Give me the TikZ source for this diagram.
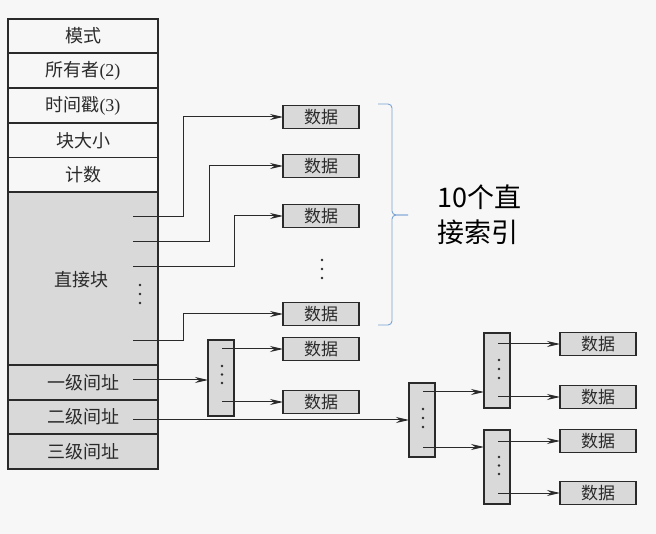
\documentclass[tikz,border=0pt]{standalone}
\usepackage{fontspec}
\setmainfont{Liberation Serif}
\newfontfamily\cjk{Noto Sans CJK SC}
\usetikzlibrary{arrows.meta}
\definecolor{bg}{HTML}{F7F7F7}
\definecolor{cellgray}{HTML}{D9D9D9}
\definecolor{ink}{HTML}{2A2A2A}
\definecolor{bracecol}{HTML}{7AA3D4}
\tikzset{
  cell/.style={draw=ink, line width=1.4pt, minimum width=150pt, inner sep=0pt, outer sep=0pt,
    font=\fontsize{18}{20}\selectfont, text=ink},
  lbl/.style={inner sep=0pt, font=\fontsize{18}{20}\selectfont, text=ink},
  databox/.style={draw=ink, line width=1.5pt, fill=cellgray, minimum width=76pt, minimum height=23pt,
    inner sep=0pt, outer sep=0pt, font=\cjk\fontsize{17}{18}\selectfont, text=ink},
  ptrblk/.style={draw=ink, line width=1.5pt, fill=cellgray, minimum width=26pt, inner sep=0pt, outer sep=0pt},
  link/.style={draw=ink, line width=1pt},
  arr/.style={link, -{Stealth[length=13pt,width=6pt]}},
  dot/.style={fill=ink},
}
\begin{document}
\begin{tikzpicture}[x=1pt,y=-1pt]
\fill[bg] (0,0) rectangle (656,534);
\useasboundingbox (0,0) rectangle (656,534);

% inode table
\node[cell, fill=bg, minimum height=34pt] (mode) at (83,36) {{\cjk 模式}};
\node[cell, fill=bg, minimum height=35pt] (owner) at (83,70.5) {{\cjk 所有者}(2)};
\node[cell, fill=bg, minimum height=35pt] (stamp) at (83,105.5) {{\cjk 时间戳}(3)};
\node[cell, fill=bg, minimum height=34.5pt] (bsize) at (83,140.25) {{\cjk 块大小}};
\node[cell, fill=bg, minimum height=34.5pt] (count) at (83,174.75) {{\cjk 计数}};
\node[cell, fill=cellgray, minimum height=173pt] (direct) at (83,278.5) {};
\node[cell, fill=cellgray, minimum height=35pt] (ind1) at (83,382.5) {{\cjk 一级间址}};
\node[cell, fill=cellgray, minimum height=34pt] (ind2) at (83,417) {{\cjk 二级间址}};
\node[cell, fill=cellgray, minimum height=35pt] (ind3) at (83,451.5) {{\cjk 三级间址}};
\node[lbl] (dlab) at (81,280) {{\cjk 直接块}};
\foreach \y in {285,294,303} \fill[dot] (140,\y) circle (1.3pt);

% direct data blocks
\node[databox] (d1) at (321,117) {数据};
\node[databox] (d2) at (321,166) {数据};
\node[databox] (d3) at (321,216) {数据};
\node[databox] (d4) at (321,314) {数据};
\node[databox] (d5) at (321,349) {数据};
\node[databox] (d6) at (321,402) {数据};
\foreach \y in {260,269,278} \fill[dot] (322,\y) circle (1.3pt);

\coordinate (p1) at (133,217);
\coordinate (p2) at (133,242);
\coordinate (p3) at (133,267);
\coordinate (p4) at (133,341);
\draw[arr] (p1) -- ++(50,0) |- (d1.west);
\draw[arr] (p2) -- ++(76,0) |- (d2.west);
\draw[arr] (p3) -- ++(101,0) |- (d3.west);
\draw[arr] (p4) -- ++(50,0) |- (d4.west);

% single indirect
\node[ptrblk, minimum height=76pt] (ib) at (221,378) {};
\foreach \y in {366,374.5,383} \fill[dot] (222,\y) circle (1.3pt);
\coordinate (q1) at (133,380);
\draw[arr] (q1) -- (q1 -| ib.west);
\coordinate (s1) at (222,349);
\coordinate (s2) at (222,402);
\draw[arr] (s1) -- (d5.west);
\draw[arr] (s2) -- (d6.west);

% double indirect
\node[ptrblk, minimum height=74pt] (db) at (422,420) {};
\node[ptrblk, minimum height=75pt] (ub) at (497,370.5) {};
\node[ptrblk, minimum height=74pt] (lb) at (497,467) {};
\foreach \y in {409,418,427} \fill[dot] (423,\y) circle (1.3pt);
\foreach \y in {360,369,378} \fill[dot] (499,\y) circle (1.3pt);
\foreach \y in {457,465.5,474} \fill[dot] (499,\y) circle (1.3pt);
\coordinate (q2) at (133,420);
\draw[arr] (q2) -- (q2 -| db.west);
\coordinate (t1) at (423,392);
\coordinate (t2) at (423,447);
\draw[arr] (t1) -- (t1 -| ub.west);
\draw[arr] (t2) -- (t2 -| lb.west);

\node[databox] (e1) at (598,344) {数据};
\node[databox] (e2) at (598,397) {数据};
\node[databox] (e3) at (598,441) {数据};
\node[databox] (e4) at (598,493) {数据};
\coordinate (u1) at (498,344);
\coordinate (u2) at (498,397);
\coordinate (v1) at (498,441);
\coordinate (v2) at (498,493);
\draw[arr] (u1) -- (e1.west);
\draw[arr] (u2) -- (e2.west);
\draw[arr] (v1) -- (e3.west);
\draw[arr] (v2) -- (e4.west);

% brace and label
\draw[bracecol, line width=0.9pt, rounded corners=4pt] (378,104) -- (392,104) -- (392,215) -- (408,215);
\draw[bracecol, line width=0.9pt, rounded corners=4pt] (408,215) -- (392,215) -- (392,325) -- (378,325);
\node[anchor=west, align=left, inner sep=0pt, font=\cjk\fontsize{27}{35}\selectfont, text=black] (lab) at (437,215) {10个直\\接索引};
\end{tikzpicture}
\end{document}
